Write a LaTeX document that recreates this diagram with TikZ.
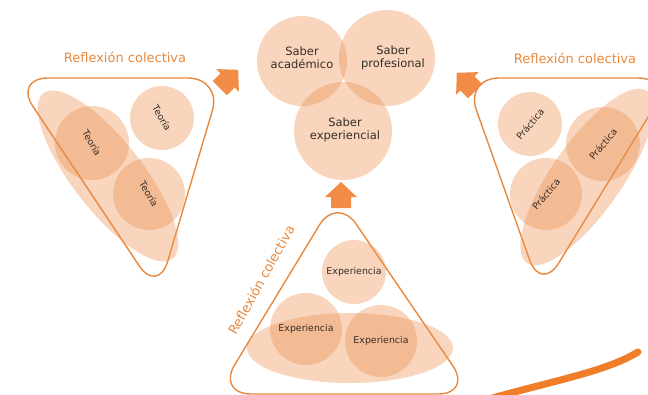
\documentclass[tikz,border=0pt]{standalone}
\usepackage{fontspec}
\setmainfont{DejaVu Sans}
\definecolor{lineor}{RGB}{232,136,60}
\definecolor{fillor}{RGB}{236,145,80}
\definecolor{arrowor}{RGB}{240,140,70}
\definecolor{swoosh}{RGB}{240,125,40}
\definecolor{txt}{RGB}{55,45,40}
\tikzset{
  bub/.style={circle, fill=fillor, fill opacity=0.38, text opacity=1, text=txt, inner sep=0pt},
  blob/.style={fill=fillor, fill opacity=0.38},
  frame/.style={draw=lineor, line width=1.4pt, rounded corners=34pt},
  reflab/.style={text=lineor, font=\fontsize{13}{15}\selectfont},
  small/.style={font=\fontsize{9.4}{11}\selectfont},
  saber/.style={font=\fontsize{11.5}{13}\selectfont, align=center},
  blockarrow/.style={fill=arrowor}
}
\begin{document}
\begin{tikzpicture}[x=1pt,y=-1pt]
\useasboundingbox (0,0) rectangle (648,394);
% ---------- top circles
\node[bub, minimum size=90pt] (acad) at (302,61) {};
\node[bub, minimum size=96pt] (prof) at (387,58) {};
\node[bub, minimum size=98pt] (exp) at (343,131) {};
\node[saber, text=txt] (acadt) at (302,58) {Saber\\académico};
\node[saber, text=txt] (proft) at (393,58) {Saber\\profesional};
\node[saber, text=txt] (expt) at (345,130) {Saber\\experiencial};
% ---------- left group
\draw[frame] (14,78) -- (222,78) -- (158,294) -- cycle;
\fill[blob, rotate around={-52:(108,176)}] (108,176) ellipse [x radius=105pt, y radius=35pt];
\node[bub, minimum size=74pt, rotate=-60, small] (t1) at (92,143) {Teoría};
\node[bub, minimum size=64pt, rotate=-60, small] (t2) at (162,118) {Teoría};
\node[bub, minimum size=72pt, rotate=-60, small] (t3) at (149,194) {Teoría};
\node[reflab] (rl) at (125,57) {Reflexión colectiva};
% ---------- right group
\draw[frame] (465,78) -- (672,78) -- (541,292) -- cycle;
\fill[blob, rotate around={55:(587,177)}] (587,177) ellipse [x radius=105pt, y radius=35pt];
\node[bub, minimum size=64pt, rotate=50, small] (p1) at (530,124) {Práctica};
\node[bub, minimum size=74pt, rotate=50, small] (p2) at (603,144) {Práctica};
\node[bub, minimum size=72pt, rotate=50, small] (p3) at (546,194) {Práctica};
\node[reflab] (rr) at (575,58) {Reflexión colectiva};
% ---------- bottom group
\draw[frame] (337,196) -- (472,394) -- (217,394) -- cycle;
\fill[blob] (350,348) ellipse [x radius=103pt, y radius=35pt];
\node[bub, minimum size=64pt, small] (e1) at (354,272) {Experiencia};
\node[bub, minimum size=72pt, small] (e2) at (306,329) {Experiencia};
\node[bub, minimum size=72pt, small] (e3) at (381,341) {Experiencia};
\node[reflab, rotate=61] (rb) at (261,280) {Reflexión colectiva};
% ---------- block arrows
\fill[blockarrow, shift={(341,195)}] (0,-13) -- (16,2) -- (10,2) -- (10,13) -- (-10,13) -- (-10,2) -- (-16,2) -- cycle;
\fill[blockarrow, shift={(229,79)}, rotate=-45] (0,-13) -- (16,2) -- (10,2) -- (10,13) -- (-10,13) -- (-10,2) -- (-16,2) -- cycle;
\fill[blockarrow, shift={(466,82)}, rotate=45] (0,-13) -- (16,2) -- (10,2) -- (10,13) -- (-10,13) -- (-10,2) -- (-16,2) -- cycle;
% ---------- swoosh
\draw[swoosh, line width=7pt, line cap=round] (478,402) .. controls (555,380) and (605,372) .. (638,352);
\end{tikzpicture}
\end{document}
